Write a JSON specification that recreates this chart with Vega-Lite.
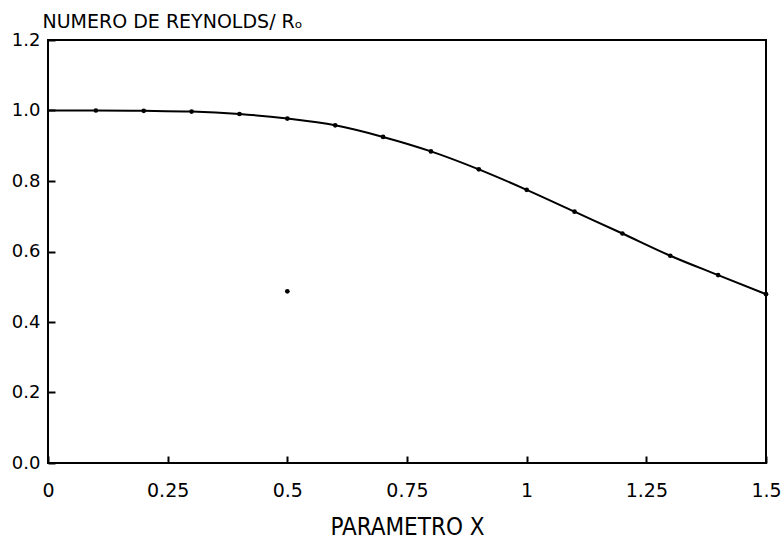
{
  "$schema": "https://vega.github.io/schema/vega-lite/v6.json",
  "width": 718,
  "height": 423,
  "autosize": "none",
  "padding": {"left": 48, "top": 40, "right": 15, "bottom": 81},
  "background": "white",
  "config": {
    "view": {"stroke": "black", "strokeWidth": 2},
    "font": "DejaVu Sans",
    "axis": {"ticks": true, "tickSize": 7, "tickColor": "black", "tickWidth": 2}
  },
  "datasets": {
    "curve": [
      {"x": 0.0, "y": 1.0},
      {"x": 0.1, "y": 1.0},
      {"x": 0.2, "y": 0.999},
      {"x": 0.3, "y": 0.997},
      {"x": 0.4, "y": 0.99},
      {"x": 0.5, "y": 0.977},
      {"x": 0.6, "y": 0.958},
      {"x": 0.7, "y": 0.925},
      {"x": 0.8, "y": 0.884},
      {"x": 0.9, "y": 0.833},
      {"x": 1.0, "y": 0.775},
      {"x": 1.1, "y": 0.713},
      {"x": 1.2, "y": 0.651},
      {"x": 1.3, "y": 0.588},
      {"x": 1.4, "y": 0.533},
      {"x": 1.5, "y": 0.479}
    ],
    "points": [
      {"x": 0.1, "y": 1.0},
      {"x": 0.2, "y": 0.999},
      {"x": 0.3, "y": 0.997},
      {"x": 0.4, "y": 0.99},
      {"x": 0.5, "y": 0.977},
      {"x": 0.6, "y": 0.958},
      {"x": 0.7, "y": 0.925},
      {"x": 0.8, "y": 0.884},
      {"x": 0.9, "y": 0.833},
      {"x": 1.0, "y": 0.775},
      {"x": 1.1, "y": 0.713},
      {"x": 1.2, "y": 0.651},
      {"x": 1.3, "y": 0.588},
      {"x": 1.4, "y": 0.533},
      {"x": 1.5, "y": 0.479},
      {"x": 0.5, "y": 0.487}
    ]
  },
  "layer": [
    {
      "data": {"name": "curve"},
      "mark": {"type": "line", "color": "black", "strokeWidth": 2, "interpolate": "monotone"},
      "encoding": {
        "x": {
          "field": "x", "type": "quantitative",
          "scale": {"domain": [0, 1.5], "nice": false, "zero": false},
          "axis": {
            "values": [0, 0.25, 0.5, 0.75, 1, 1.25, 1.5],
            "labelExpr": "datum.value == 0 ? '0' : format(datum.value, '')",
            "grid": false, "domain": false, "offset": -7,
            "labelPadding": 18, "labelFontSize": 19, "labelColor": "black",
            "labelFlush": false,
            "title": "PARAMETRO X", "titleFont": "DejaVu Sans Condensed, Liberation Sans",
            "titleFontSize": 24, "titleFontWeight": "normal",
            "titleColor": "black", "titleBaseline": "alphabetic", "titleY": 78
          }
        },
        "y": {
          "field": "y", "type": "quantitative",
          "scale": {"domain": [0, 1.2], "nice": false},
          "axis": {
            "values": [0, 0.2, 0.4, 0.6, 0.8, 1.0, 1.2],
            "format": ".1f",
            "grid": false, "domain": false, "offset": -7,
            "labelPadding": 8, "labelFontSize": 18, "labelColor": "black",
            "title": "NUMERO DE REYNOLDS/ Rₒ", "titleAngle": 0,
            "titleAlign": "left", "titleBaseline": "alphabetic",
            "titleX": -13, "titleY": -13, "titleFontSize": 19,
            "titleFontWeight": "normal", "titleColor": "black"
          }
        }
      }
    },
    {
      "data": {"name": "points"},
      "mark": {"type": "circle", "color": "black", "size": 22, "opacity": 1},
      "encoding": {
        "x": {"field": "x", "type": "quantitative"},
        "y": {"field": "y", "type": "quantitative"}
      }
    }
  ]
}
